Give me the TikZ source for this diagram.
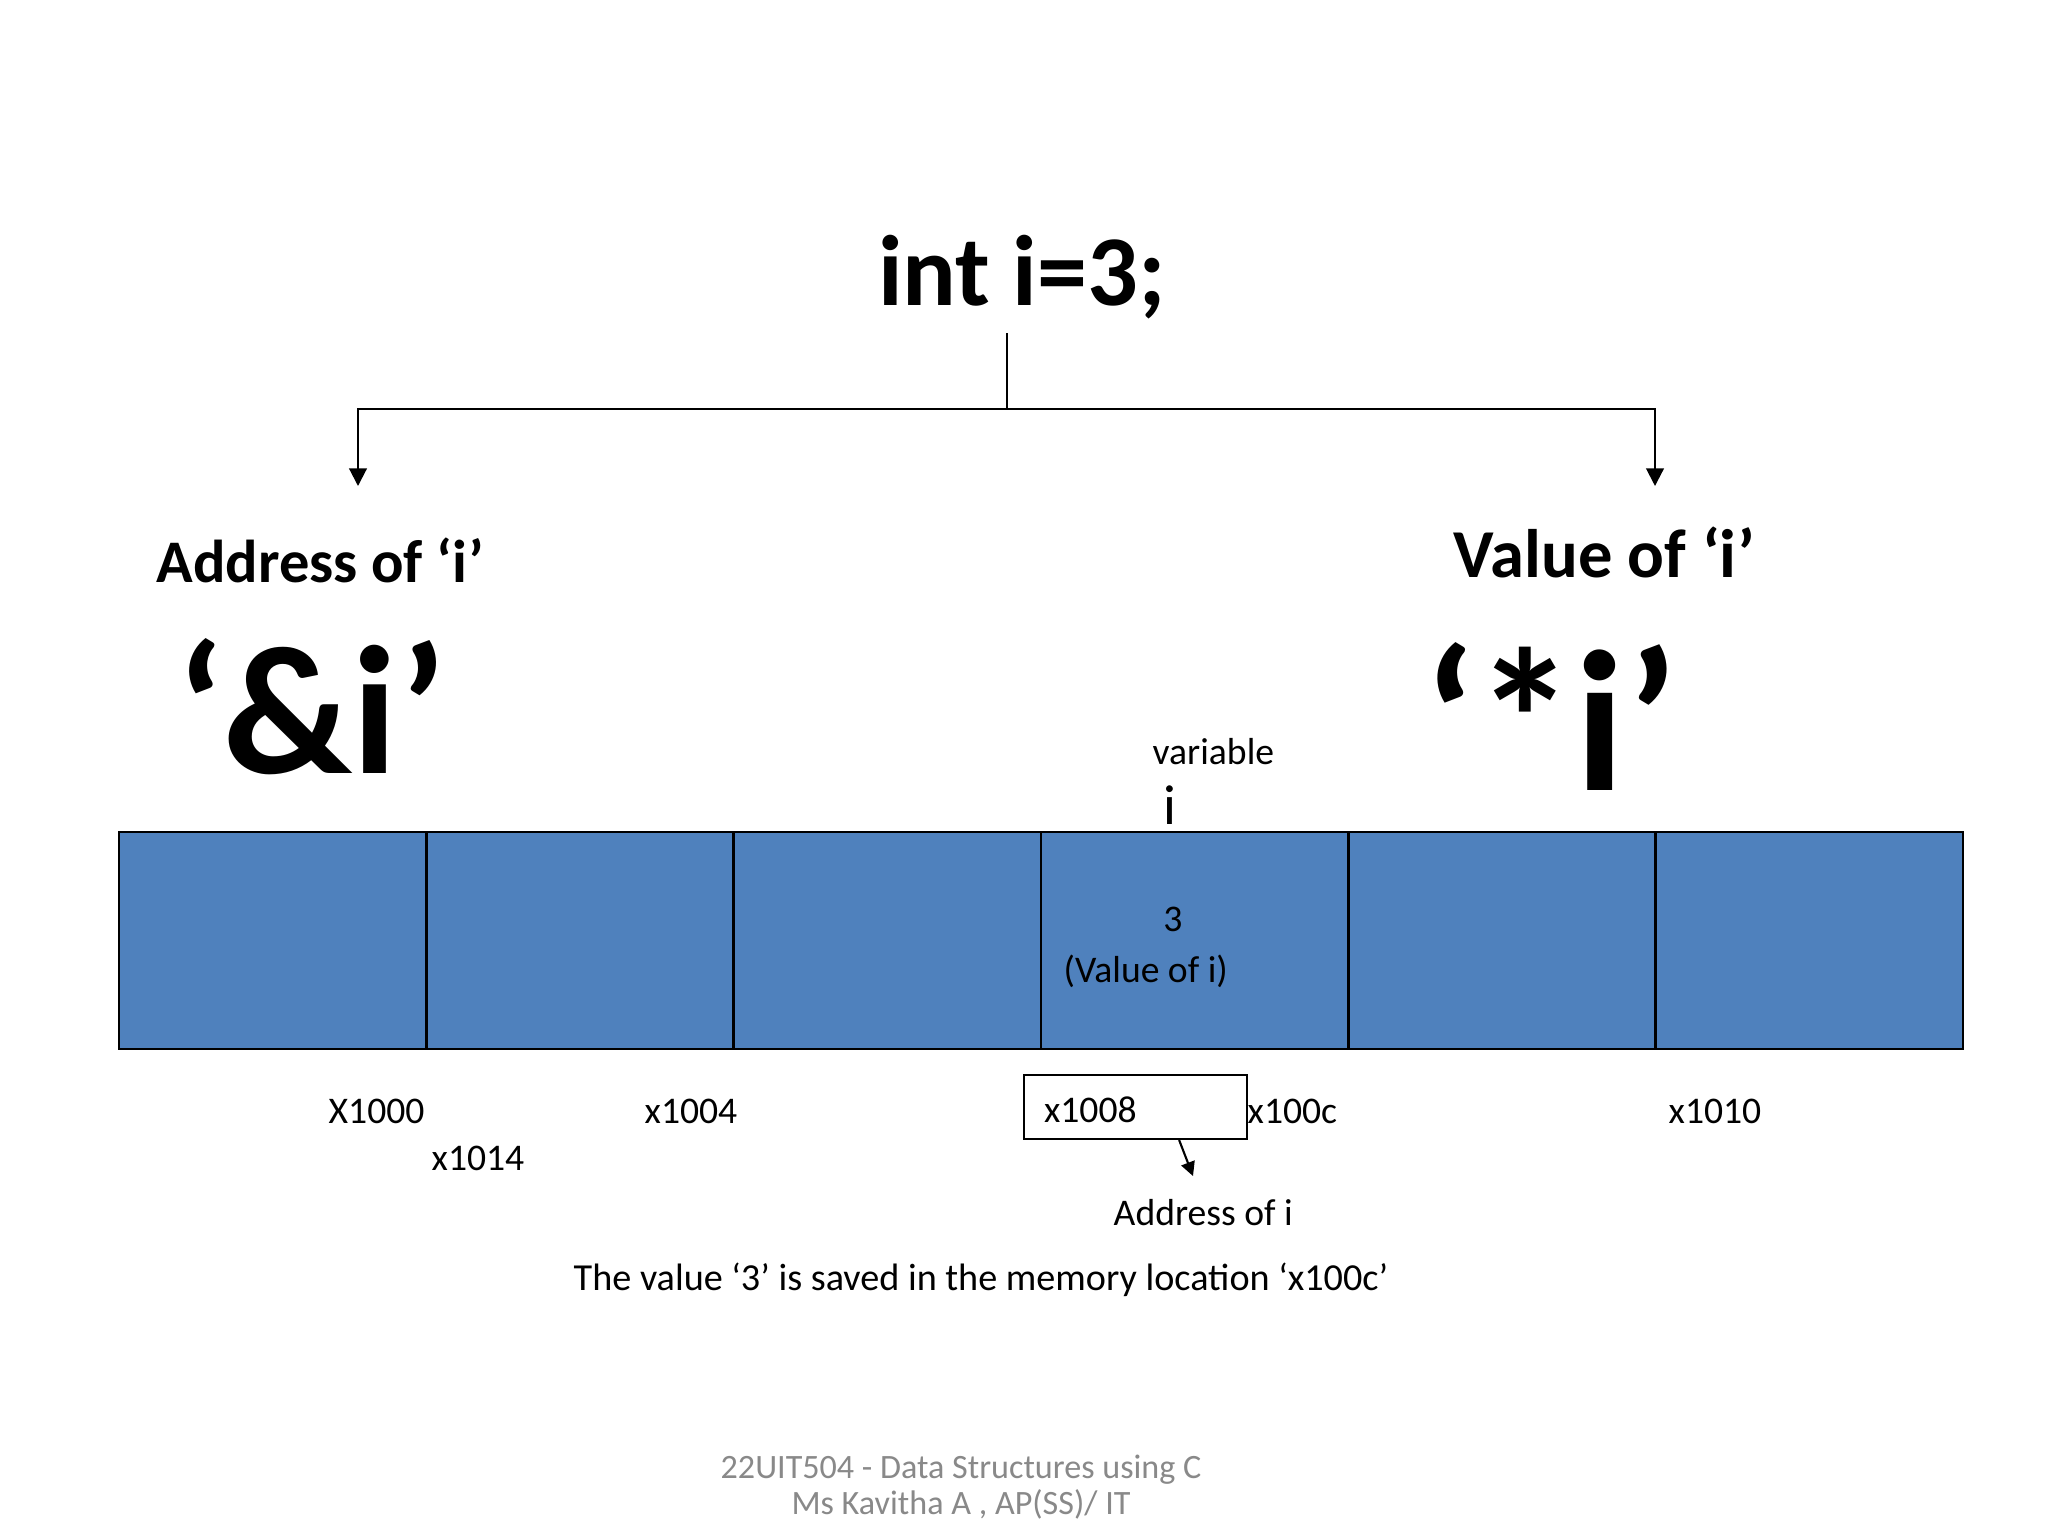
\documentclass[tikz,border=0pt]{standalone}
\usepackage{fontspec}
\setmainfont{Carlito}
\usetikzlibrary{arrows.meta}
\definecolor{cellblue}{HTML}{4F81BD}
\definecolor{footgray}{HTML}{898989}

\begin{document}
\begin{tikzpicture}[
        x=0.01cm, y=-0.01cm,
        cell/.style={rectangle, draw, line width=0.8pt, fill=cellblue, minimum width=3.073cm, minimum height=2.17cm, inner sep=0},
        lbl/.style={inner sep=0, anchor=base west, font=\fontsize{10.7}{13}\selectfont},
        heading/.style={inner sep=0, anchor=base west, font=\bfseries\fontsize{#1}{#1}\selectfont},
        arr/.style={-{Triangle[width=5pt,length=5pt]}, line width=0.6pt},
        small_arr/.style={-{Triangle[width=4pt,length=4pt]}, line width=0.6pt}
    ]
        \path[use as bounding box, fill=white] (0,0) rectangle (2048,1536);

        % declaration and its two branches
        \node[heading=28.5, anchor=base] (decl) at (1022,305) {int i=3;};
        \coordinate (stem) at (1007,333);
        \coordinate (split) at (1007,409);
        \coordinate (addr_tip) at (358,486);
        \coordinate (val_tip) at (1655,486);
        \draw[line width=0.6pt] (stem) -- (split);
        \draw[arr] (split) -| (addr_tip);
        \draw[arr] (split) -| (val_tip);

        \node[heading=17.2] (addr_head) at (156,582) {Address of ‘i’};
        \node[heading=52] (addr_op) at (176,773) {‘\&i’};
        \node[heading=19.5] (val_head) at (1453,577) {Value of ‘i’};
        \node[heading=57] (val_op) at (1423,790) {‘*i’};

        % memory cells
        \foreach \k in {1,...,6}
            \node[cell] (cell\k) at ({119+307.33*(\k-0.5)}, 940.5) {};

        \node[lbl] (var_word) at (1152,764) {variable};
        \node[inner sep=0, anchor=base, font=\fontsize{16}{16}\selectfont] (var_name) at (1170,824) {i};
        \node[lbl, anchor=base] (val_num) at (1173,931) {3};
        \node[lbl] (val_text) at (1063,982) {(Value of i)};

        % addresses
        \node[lbl] (a1000) at (328,1123) {X1000};
        \node[lbl] (a1014) at (431,1170) {x1014};
        \node[lbl] (a1004) at (644,1123) {x1004};
        \node[draw, line width=0.6pt, anchor=west, inner xsep=0.2cm, inner ysep=0, minimum height=0.64cm,
              text width=1.83cm, text height=0.31cm, align=left, font=\fontsize{10.7}{13}\selectfont] (a1008) at (1023,1107) {x1008};
        \node[lbl] (a100c) at (1247,1123) {x100c};
        \node[lbl] (a1010) at (1668,1123) {x1010};

        \coordinate (addr_i_tip) at (1193,1176);
        \draw[small_arr] ([xshift=0.435cm]a1008.south) -- (addr_i_tip);
        \node[lbl] (addr_i) at (1113,1225) {Address of i};
        \node[lbl, font=\fontsize{10.86}{13}\selectfont] (note) at (573,1290) {The value ‘3’ is saved in the memory location ‘x100c’};

        % footer
        \node[inner sep=0, anchor=base, align=center, text=footgray, font=\fontsize{9.7}{10.2}\selectfont] (footer) at (961,1514)
            {22UIT504 - Data Structures using C\\Ms Kavitha A , AP(SS)/ IT};
\end{tikzpicture}
\end{document}
